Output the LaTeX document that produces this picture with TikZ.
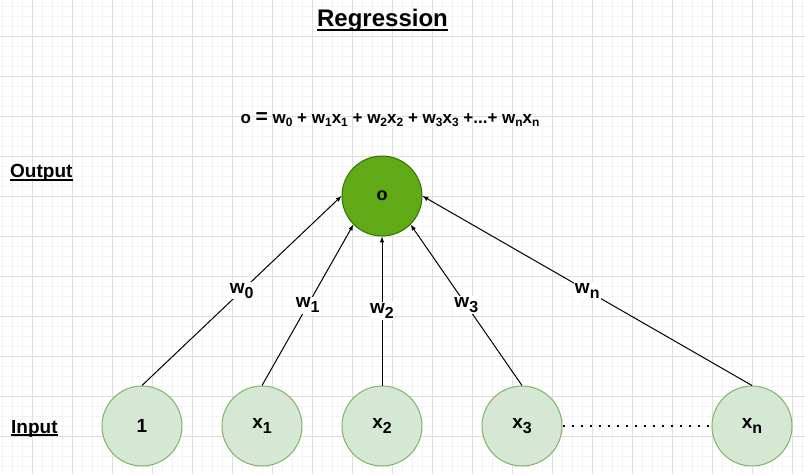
\documentclass[tikz,border=0pt]{standalone}
\usepackage{fontspec}
\setmainfont{Liberation Sans}
\usepackage{tikz}

% Colores del diagrama
\definecolor{verdeclaro}{HTML}{D5E8D4}
\definecolor{verdeborde}{HTML}{82B366}
\definecolor{verdeoscuro}{HTML}{60A917}
\definecolor{bordeoscuro}{HTML}{2D7600}
\definecolor{rejillagruesa}{HTML}{DEDEDE}
\definecolor{rejillafina}{HTML}{F3F3F3}

% Subindices: grande (nodos y pesos) y pequeno (formula)
\newcommand\subg[1]{\raisebox{-5pt}{\fontsize{16}{16}\selectfont #1}}
\newcommand\subp[1]{\raisebox{-3.5pt}{\fontsize{12}{12}\selectfont #1}}

\begin{document}
\begin{tikzpicture}[x=1pt,y=-1pt,
  entrada/.style={circle, draw=verdeborde, fill=verdeclaro, line width=1pt,
    minimum size=80pt, inner sep=0pt, font=\fontsize{19}{19}\selectfont\bfseries},
  peso/.style={fill=white, inner sep=1pt, font=\fontsize{19}{19}\selectfont\bfseries},
  rotulo/.style={inner sep=0pt, font=\fontsize{19}{19}\selectfont\bfseries},
  subraya/.style={line width=1.5pt},
  flecha/.style={line width=1pt, -latex}]
% Marco de la figura y fondo
\useasboundingbox (0,0) rectangle (805,474);
\fill[white] (0,0) rectangle (805,474);

% Rejilla: lineas finas cada 10 y gruesas cada 40
\foreach \x in {2.5,12.5,...,802.5}
  \draw[rejillafina, line width=0.8pt] (\x,0) -- (\x,474);
\foreach \y in {6,16,...,466}
  \draw[rejillafina, line width=0.8pt] (0,\y) -- (805,\y);
\foreach \x in {32.5,72.5,...,792.5}
  \draw[rejillagruesa, line width=1pt] (\x,0) -- (\x,474);
\foreach \y in {36,76,...,436}
  \draw[rejillagruesa, line width=1pt] (0,\y) -- (805,\y);

% Titulo y formula
\node[rotulo, anchor=base, font=\fontsize{24}{24}\selectfont\bfseries] (titulo) at (382.5,26) {Regression};
\draw[subraya, line width=2pt] ([yshift=-3.5pt]titulo.base west) -- ([yshift=-3.5pt]titulo.base east);
\node[anchor=base] (formula) at (390,123) {\fontsize{17}{17}\selectfont\bfseries
  o {\fontsize{21}{21}\selectfont =} w\subp{0} + w\subp{1}x\subp{1} + w\subp{2}x\subp{2}
  + w\subp{3}x\subp{3} +...+ w\subp{n}x\subp{n}};

% Rotulos de las capas, subrayados
\node[rotulo, anchor=base west] (rsalida) at (10,177) {Output};
\draw[subraya] ([yshift=-3pt]rsalida.base west) -- ([yshift=-3pt]rsalida.base east);
\node[rotulo, anchor=base west] (rentrada) at (11,433) {Input\ };
\draw[subraya] ([yshift=-2pt]rentrada.base west) -- ([yshift=-2pt]rentrada.base east);

% Neurona de salida
\node[circle, draw=bordeoscuro, fill=verdeoscuro, line width=1pt, minimum size=80pt,
  inner sep=0pt, font=\fontsize{18}{18}\selectfont\bfseries] (salida) at (382,196) {o};

% Neuronas de entrada
\node[entrada] (e0) at (142,426) {1};
\node[entrada] (e1) at (262,426) {x\subg{1}};
\node[entrada] (e2) at (382,426) {x\subg{2}};
\node[entrada] (e3) at (522,426) {x\subg{3}};
\node[entrada] (en) at (752,426) {x\subg{n}};

% Conexiones con sus pesos
\draw[flecha] (e0.north) -- node[peso]{w\subg{0}} (salida.west);
\draw[flecha] (e1.north) -- node[peso]{w\subg{1}} (salida.south west);
\draw[flecha] (e2.north) -- node[peso]{w\subg{2}} (salida.south);
\draw[flecha] (e3.north) -- node[peso]{w\subg{3}} (salida.south east);
\draw[flecha] (en.north) -- node[peso]{w\subg{n}} (salida.east);

% Puntos suspensivos entre x3 y xn
\draw[line width=2pt, dash pattern=on 2pt off 7pt] (e3.east) -- (en.west);
\end{tikzpicture}
\end{document}
